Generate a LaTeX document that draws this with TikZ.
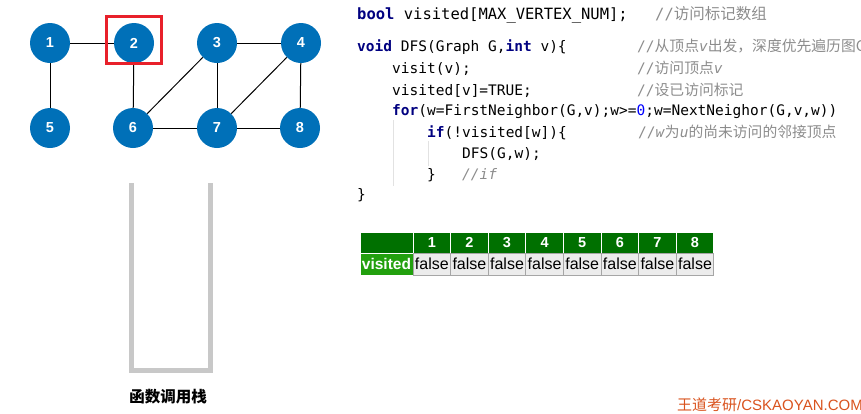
\documentclass[tikz,border=0pt]{standalone}
\usepackage{fontspec}
\setmonofont{DejaVu Sans Mono}
\setsansfont{Liberation Sans}
\newfontfamily\cjk{Noto Sans CJK SC}
\usepackage{tikz}
\usetikzlibrary{positioning}

\definecolor{vblue}{HTML}{0070B8}
\definecolor{boxred}{HTML}{E8202A}
\definecolor{stackgray}{HTML}{C8C8C8}
\definecolor{kwblue}{HTML}{000080}
\definecolor{numblue}{HTML}{0000FF}
\definecolor{cmtgray}{HTML}{8C8C8C}
\definecolor{guidegray}{HTML}{E2E2E2}
\definecolor{hdrgreen}{HTML}{007000}
\definecolor{namegreen}{HTML}{22A00E}
\definecolor{cellgray}{HTML}{ECECEC}
\definecolor{cellline}{HTML}{A6A6A6}
\definecolor{markorange}{HTML}{D9531E}

\newcommand\kwd[1]{{\color{kwblue}\bfseries #1}}
\newcommand\cmt[1]{{\color{cmtgray}#1}}
\newcommand\zh[1]{{\cjk\fontsize{14.8}{14.8}\selectfont #1}}

\tikzset{
  vertex/.style={circle, fill=vblue, minimum size=40pt, inner sep=0pt,
    text=white, font=\sffamily\bfseries\fontsize{14.5}{14.5}\selectfont},
  codeline/.style={anchor=base west, inner sep=0pt,
    font=\ttfamily\fontsize{14.5}{14.5}\selectfont},
  hdrcell/.style={draw=white, fill=hdrgreen, line width=1pt, outer sep=0pt,
    minimum width=37.6pt, minimum height=21.5pt, inner sep=0pt,
    text=white, font=\sffamily\bfseries\fontsize{14.5}{14.5}\selectfont},
  valcell/.style={draw=cellline, fill=cellgray, line width=0.8pt, outer sep=0pt,
    minimum width=37.6pt, minimum height=21.5pt, inner sep=0pt,
    font=\sffamily\fontsize{16}{16}\selectfont},
  stackwall/.style={draw=stackgray, line width=5pt},
  guide/.style={draw=guidegray, line width=1pt}
}

\begin{document}
\begin{tikzpicture}[x=1pt,y=-1pt]
\useasboundingbox (0,0) rectangle (861,413);
%%% Draws graph
% draws vertices
\node[vertex] (v1) at (50,43) {1};
\node[vertex] (v2) at (134,43) {2};
\node[vertex] (v3) at (217,43) {3};
\node[vertex] (v4) at (301,43) {4};
\node[vertex] (v5) at (50,128) {5};
\node[vertex] (v6) at (133,128) {6};
\node[vertex] (v7) at (217,128) {7};
\node[vertex] (v8) at (300,128) {8};
% draws edges
\draw[line width=1pt] (v1) -- (v2);
\draw[line width=1pt] (v1) -- (v5);
\draw[line width=1pt] (v2) -- (v6);
\draw[line width=1pt] (v3) -- (v4);
\draw[line width=1pt] (v3) -- (v6);
\draw[line width=1pt] (v3) -- (v7);
\draw[line width=1pt] (v4) -- (v7);
\draw[line width=1pt] (v4) -- (v8);
\draw[line width=1pt] (v6) -- (v7);
\draw[line width=1pt] (v7) -- (v8);
% marks current vertex
\node[draw=boxred, line width=3pt, minimum width=55pt, minimum height=47pt] (cur) at (134,40) {};
%%% Draws call stack
\coordinate (stl) at (131,183);
\coordinate (str) at (210,183);
\draw[stackwall] (stl) -- (131,370) -- (210,370) -- (str);
\node[font=\cjk\bfseries\fontsize{15.5}{15.5}\selectfont] (stlabel) at (168,397) {函数调用栈};
%%% Draws code
% indent guides
\draw[guide] (393,120) -- (393,186);
\draw[guide] (428,141) -- (428,166);
% code lines
\node[codeline, font=\ttfamily\fontsize{15.5}{15.5}\selectfont] (c1) at (357,19) {\kwd{bool} visited[MAX\_VERTEX\_NUM];};
\node[codeline] (c2) at (357,51.5) {\kwd{void} DFS(Graph G,\kwd{int} v)\{};
\node[codeline] (c3) at (392,73) {visit(v);};
\node[codeline] (c4) at (392,95) {visited[v]=TRUE;};
\node[codeline] (c5) at (392,115.5) {\kwd{for}(w=FirstNeighbor(G,v);w>={\color{numblue}0};w=NextNeighor(G,v,w))};
\node[codeline] (c6) at (427,137) {\kwd{if}(!visited[w])\{};
\node[codeline] (c7) at (462,158) {DFS(G,w);};
\node[codeline] (c8) at (427,179) {\}};
\node[codeline] (c9) at (357,199.5) {\}};
% comments
\node[codeline, font=\ttfamily\fontsize{15.5}{15.5}\selectfont] (m1) at (655,19) {\cmt{//{\cjk\fontsize{15.5}{15.5}\selectfont 访问标记数组}}};
\node[codeline] (m2) at (637,51.5) {\cmt{//\zh{从顶点}\textit{v}\zh{出发，深度优先遍历图G}}};
\node[codeline] (m3) at (637,73) {\cmt{//\zh{访问顶点}\textit{v}}};
\node[codeline] (m4) at (637,95) {\cmt{//\zh{设已访问标记}}};
\node[codeline] (m6) at (638,137) {\cmt{//\textit{w}\zh{为}\textit{u}\zh{的尚未访问的邻接顶点}}};
\node[codeline] (m8) at (462,179) {\cmt{\textit{//if}}};
%%% Draws visited table
% header row
\node[hdrcell, minimum width=53pt] (h0) at (386.5,242.75) {};
\node[hdrcell, right=0pt of h0] (h1) {1};
\node[hdrcell, right=0pt of h1] (h2) {2};
\node[hdrcell, right=0pt of h2] (h3) {3};
\node[hdrcell, right=0pt of h3] (h4) {4};
\node[hdrcell, right=0pt of h4] (h5) {5};
\node[hdrcell, right=0pt of h5] (h6) {6};
\node[hdrcell, right=0pt of h6] (h7) {7};
\node[hdrcell, right=0pt of h7] (h8) {8};
% value row
\node[hdrcell, fill=namegreen, minimum width=53pt, below=0pt of h0, font=\sffamily\bfseries\fontsize{15.5}{15.5}\selectfont] (r0) {visited};
\node[valcell, below=0pt of h1] (r1) {false};
\node[valcell, below=0pt of h2] (r2) {false};
\node[valcell, below=0pt of h3] (r3) {false};
\node[valcell, below=0pt of h4] (r4) {false};
\node[valcell, below=0pt of h5] (r5) {false};
\node[valcell, below=0pt of h6] (r6) {false};
\node[valcell, below=0pt of h7] (r7) {false};
\node[valcell, below=0pt of h8] (r8) {false};
%%% Draws watermark
\node[anchor=base west, inner sep=0pt, text=markorange, font=\sffamily\fontsize{15}{15}\selectfont] (mark) at (677,410) {{\cjk 王道考研}/CSKAOYAN.COM};
\end{tikzpicture}
\end{document}
